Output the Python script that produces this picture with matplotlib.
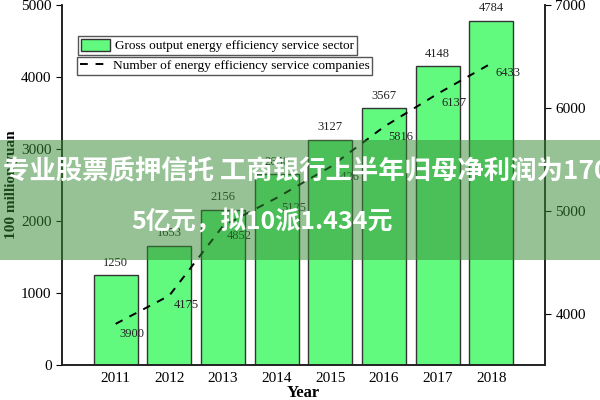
import matplotlib
matplotlib.use('Agg')
import matplotlib.pyplot as plt
from matplotlib.patches import Rectangle

# data
years = [2011, 2012, 2013, 2014, 2015, 2016, 2017, 2018]
gross_output = [1250, 1653, 2156, 2650, 3127, 3567, 4148, 4784]
companies = [3900, 4175, 4852, 5125, 5426, 5816, 6137, 6433]
bar_name = 'Gross output energy efficiency service sector'
line_name = 'Number of energy efficiency service companies'
banner_line1 = '专业股票质押信托 工商银行上半年归母净利润为170'
banner_line2 = '5亿元，拟10派1.434元'

plt.rcParams['font.family'] = ['Liberation Serif', 'DejaVu Serif']

fig = plt.figure(figsize=(6, 4), dpi=100)
ax = fig.add_axes([62/600, 35/400, (545-62)/600, 360/400])
ax2 = ax.twinx()

bars = ax.bar(years, gross_output, width=0.82, color='#62fa7e',
              edgecolor='#333333', linewidth=1, label=bar_name, zorder=2)
for x, v in zip(years, gross_output):
    ax.annotate(str(v), (x, v), xytext=(0, 9), textcoords='offset points',
                ha='center', va='center', fontsize=9, color='#222222')

line, = ax2.plot(years, companies, color='black', linestyle=(0, (4, 4)),
                 linewidth=1.4, label=line_name)
for x, v in zip(years, companies):
    ax2.annotate(str(v), (x, v), xytext=(12, -7), textcoords='offset points',
                 ha='center', va='center', fontsize=9, color='#222222')

ax.set_xlim(2010, 2019)
ax.set_ylim(0, 5000)
ax2.set_ylim(3500, 7000)
ax.set_xticks(years)
ax.set_yticks([0, 1000, 2000, 3000, 4000, 5000])
ax2.set_yticks([4000, 5000, 6000, 7000])

for a in (ax, ax2):
    a.spines['top'].set_visible(False)
    for s in a.spines.values():
        s.set_linewidth(1.2)
        s.set_color('#222222')
ax.tick_params(axis='x', direction='in', length=4, labelsize=11, pad=5)
ax.tick_params(axis='y', direction='out', length=4, labelsize=11)
ax2.tick_params(axis='y', direction='out', length=4, labelsize=11)

ax.set_xlabel('Year', fontsize=12, fontweight='bold', va='center')
ax.xaxis.set_label_coords(0.5, -28/360)
ax.set_ylabel('100 million yuan', fontsize=11, fontweight='bold', labelpad=2)
ax2.set_ylabel('Number', fontsize=12, fontweight='bold', labelpad=14)

leg1 = ax.legend(handles=[bars], loc='upper left', bbox_to_anchor=(78/600, 1-36/400),
                 bbox_transform=fig.transFigure, borderaxespad=0, fancybox=False,
                 edgecolor='#555555', framealpha=1, fontsize=9.5, borderpad=0.2,
                 handlelength=2.2, handleheight=1.1, handletextpad=0.4)
leg2 = ax2.legend(handles=[line], loc='upper left', bbox_to_anchor=(77/600, 1-57/400),
                  bbox_transform=fig.transFigure, borderaxespad=0, fancybox=False,
                  edgecolor='#555555', framealpha=1, fontsize=9.6, borderpad=0.2,
                  handlelength=2.3, handletextpad=0.2)
leg1.get_frame().set_linewidth(1)
leg2.get_frame().set_linewidth(1)

# overlay banner
fig.add_artist(Rectangle((0, 1-260/400), 1, 120/400, transform=fig.transFigure,
                         facecolor=(0.21, 0.54, 0.21), alpha=0.52, edgecolor='none', zorder=10))
cjk = ['Noto Sans CJK SC', 'DejaVu Sans']
fig.text(3/600, 1-172/400, banner_line1, family=cjk, fontweight='bold', fontsize=19,
         color='white', ha='left', va='center', zorder=11)
fig.text(262/600, 1-222/400, banner_line2, family=cjk, fontweight='bold', fontsize=18,
         color='white', ha='center', va='center', zorder=11)

fig.savefig('out.png', dpi=100)
